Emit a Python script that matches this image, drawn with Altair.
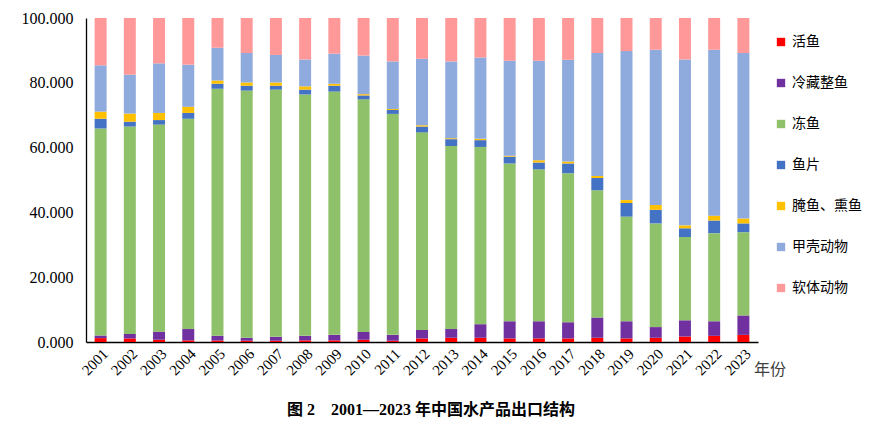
import pandas as pd
import altair as alt

# ── data (percent of export value) ───────────────────────────────────────────

years = [str(y) for y in range(2001, 2024)]

series = ["活鱼", "冷藏整鱼", "冻鱼", "鱼片", "腌鱼、熏鱼", "甲壳动物", "软体动物"]

live_fish = [1.2, 1.1, 0.7, 0.5, 0.5, 0.4, 0.4, 0.5, 0.5, 0.7, 0.4, 1.1,
             1.3, 1.3, 1.1, 1.1, 1.1, 1.3, 1.1, 1.3, 1.7, 1.9, 2.2]
chilled_fish = [0.8, 1.4, 2.5, 3.5, 1.4, 0.9, 1.2, 1.4, 1.7, 2.4, 1.8, 2.6,
                2.7, 4.2, 5.3, 5.3, 5.0, 6.3, 5.3, 3.3, 5.0, 4.5, 6.0]
frozen_fish = [63.9, 64.0, 63.9, 64.9, 76.3, 76.3, 76.3, 74.5, 75.1, 71.8, 68.2, 61.0,
               56.5, 54.7, 48.7, 46.9, 46.0, 39.2, 32.3, 32.0, 25.7, 27.2, 25.7]
fillets = [3.0, 1.5, 1.4, 1.8, 1.5, 1.5, 1.2, 1.5, 1.8, 1.2, 1.2, 1.8,
           2.1, 2.1, 2.1, 2.1, 3.0, 3.8, 4.2, 4.2, 2.7, 3.9, 2.7]
salted_smoked = [2.2, 2.5, 2.2, 1.9, 1.0, 1.0, 1.0, 1.0, 0.6, 0.4, 0.3, 0.4,
                 0.3, 0.4, 0.3, 0.7, 0.6, 0.6, 0.9, 1.5, 0.9, 1.5, 1.5]
crustaceans = [14.3, 12.0, 15.3, 13.0, 10.1, 9.1, 8.5, 8.3, 9.3, 11.9, 14.7, 20.5,
               23.7, 25.1, 29.3, 30.7, 31.4, 38.0, 46.0, 47.9, 51.2, 51.2, 51.1]
molluscs = [14.6, 17.5, 14.0, 14.4, 9.2, 10.8, 11.4, 12.8, 11.0, 11.6, 13.4, 12.6,
            13.4, 12.2, 13.2, 13.2, 12.9, 10.8, 10.2, 9.8, 12.8, 9.8, 10.8]

y_ticks = [0, 20, 40, 60, 80, 100]
x_title = "年份"
fig_caption = "图 2　2001—2023 年中国水产品出口结构"

# ── colours / fonts ──────────────────────────────────────────────────────────

COLORS = ["#FF0000", "#7030A0", "#8FC16B", "#4472C4", "#FFC000", "#8FAADC", "#FF9999"]
SERIF = "Liberation Serif"
CJK = "Noto Sans CJK SC"

# ── long table ───────────────────────────────────────────────────────────────

columns = [live_fish, chilled_fish, frozen_fish, fillets, salted_smoked, crustaceans, molluscs]
rows = []
for k, (name, vals) in enumerate(zip(series, columns)):
    for yr, v in zip(years, vals):
        rows.append({"year": yr, "type": name, "share": v, "idx": k})
df = pd.DataFrame(rows)

PLOT_W, PLOT_H = 672, 324
TOP = 10

bars = (
    alt.Chart(df)
    .mark_bar(stroke=None)
    .encode(
        x=alt.X(
            "year:N",
            sort=years,
            title=None,
            scale=alt.Scale(paddingInner=0.59, paddingOuter=0.295),
            axis=alt.Axis(
                labelAngle=-45, labelFont=SERIF, labelFontSize=15, labelColor="#000",
                ticks=False, labelPadding=4, domainColor="#000", domainWidth=1.3,
            ),
        ),
        y=alt.Y(
            "share:Q",
            stack="zero",
            title=None,
            scale=alt.Scale(domain=[0, 100], nice=False),
            axis=alt.Axis(
                values=y_ticks, format=".3f", grid=False, ticks=False,
                labelFont=SERIF, labelFontSize=16, labelColor="#000", labelPadding=13,
                domainColor="#000", domainWidth=1.3,
            ),
        ),
        color=alt.Color(
            "type:N",
            scale=alt.Scale(domain=series, range=COLORS),
            legend=alt.Legend(
                title=None, orient="none", legendX=688, legendY=17,
                symbolType="square", symbolSize=70, symbolStrokeWidth=0, symbolOpacity=1,
                labelFont=CJK, labelFontSize=14, labelColor="#000", labelOffset=4,
                rowPadding=27, padding=0,
            ),
        ),
        order=alt.Order("idx:Q", sort="ascending"),
        tooltip=["year:N", "type:N", "share:Q"],
    )
)

axis_name = (
    alt.Chart(pd.DataFrame({"t": [x_title]}))
    .mark_text(align="left", baseline="middle", font=CJK, fontSize=16, color="#404040")
    .encode(text="t:N", x=alt.value(668), y=alt.value(352))
)

caption = (
    alt.Chart(pd.DataFrame({"t": [fig_caption]}))
    .mark_text(align="center", baseline="middle", font=f"{SERIF}, {CJK}",
               fontSize=16, fontWeight="bold", color="#000")
    .encode(text="t:N", x=alt.value(345), y=alt.value(392))
)

chart = (
    alt.layer(bars, axis_name, caption)
    .properties(
        width=PLOT_W, height=PLOT_H,
        autosize=alt.AutoSizeParams(type="none"),
        padding={"left": 78, "top": TOP, "right": 120, "bottom": 78},
    )
    .configure(background="white")
    .configure_view(strokeWidth=0)
)

chart.save("out.html", embed_options={"renderer": "svg", "actions": False})
